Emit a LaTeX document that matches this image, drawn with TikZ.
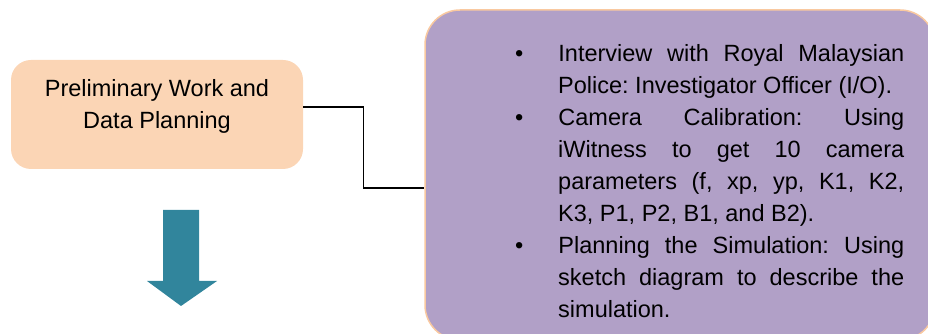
\documentclass[tikz,border=0pt]{standalone}
\usepackage{fontspec}
\setmainfont{Liberation Sans}
\usepackage{enumitem}
\definecolor{peach}{HTML}{FBD5B5}
\definecolor{peachline}{HTML}{F9C9A0}
\definecolor{lilac}{HTML}{B1A0C7}
\definecolor{arrowteal}{HTML}{31859C}
\usetikzlibrary{positioning}
\frenchspacing

\begin{document}
\begin{tikzpicture}[x=1pt, y=1pt,
	prelimbox/.style={fill=peach, rounded corners=20pt, minimum width=292pt, minimum height=109pt, align=center, text depth=21pt, font=\fontsize{23.5}{31.5}\selectfont},
	taskbox/.style={draw=peachline, line width=1.5pt, fill=lilac, rounded corners=35pt, minimum width=510pt, minimum height=330pt}]
	\useasboundingbox (0,0) rectangle (928,334);
	\node[prelimbox] (prelim) at (157,219.5) {Preliminary Work and\\Data Planning};
	\node[taskbox] (tasks) at (680,159) {};
	\node[anchor=north west, inner sep=0pt, text width=389pt, align=justify, font=\fontsize{23.5}{32}\selectfont] (tasklist) at (515,305) {%
		\hyphenpenalty=10000
		\begin{itemize}[leftmargin=43pt, labelindent=0pt, labelwidth=8pt, labelsep=35pt, align=left, itemsep=0pt, parsep=0pt, topsep=0pt, partopsep=0pt]
		\item Interview with Royal Malaysian\linebreak Police: Investigator Officer (I/O).
		\item Camera Calibration: Using\linebreak iWitness to get 10 camera\linebreak parameters (f, xp, yp, K1, K2,\linebreak K3, P1, P2, B1, and B2).
		\item Planning the Simulation: Using\linebreak sketch diagram to describe the\linebreak simulation.
		\end{itemize}};
	\draw[line width=1.2pt] ([yshift=7.5pt]prelim.east) -- ++(60,0) |- ([yshift=-13pt]tasks.west);
	% block arrow below the first box
	\coordinate (shaftl) at (163,124); \coordinate (shaftr) at (199,124); \coordinate (tip) at (181,28);
	\fill[arrowteal] (shaftl) -- (shaftr) -- (199,53) -- (217,53) -- (tip) -- (147,53) -- (163,53) -- cycle;
\end{tikzpicture}
\end{document}
